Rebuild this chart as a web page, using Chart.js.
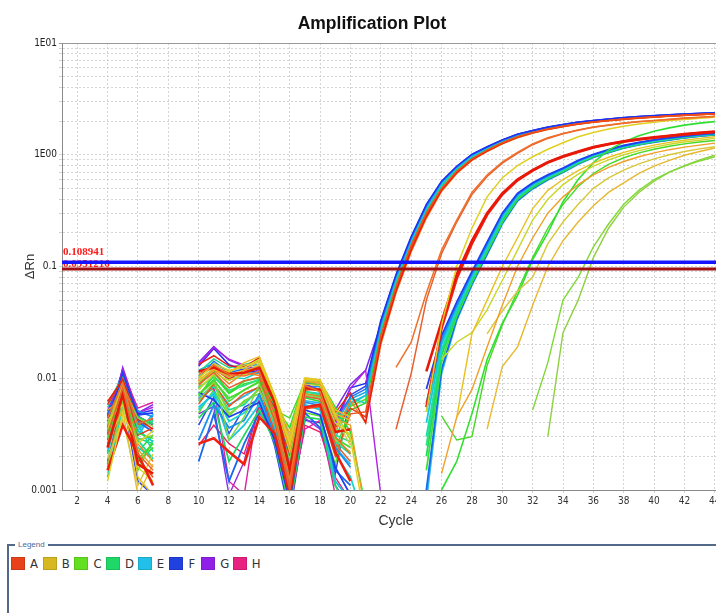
<!DOCTYPE html>
<html>
<head>
<meta charset="utf-8">
<title>Amplification Plot</title>
<script src="https://cdn.jsdelivr.net/npm/chart.js@4.4.1/dist/chart.umd.min.js"></script>
<style>
    html, body { margin: 0; padding: 0; background: #fff; overflow: hidden; }
    #page { position: relative; width: 716px; height: 613px; overflow: hidden; background: #fff; }
    #plot { position: absolute; left: 0; top: 0; width: 744px; height: 540px; }
    #legendBox {
        position: absolute; left: 7px; top: 544px; width: 730px; height: 90px;
        border-top: 2px solid #52698a; border-left: 2px solid #52698a;
    }
    #legendCaption {
        position: absolute; left: 6px; top: -6px; padding: 0 3px; background: #fff;
        font: 8px "Liberation Sans", sans-serif; color: #4a6a9a;
    }
    #legendItems { position: absolute; left: 2px; top: 10px; display: flex; }
    .item { display: flex; align-items: center; width: 31.7px; }
    .swatch { width: 12px; height: 11px; margin-right: 5px; border: 1px solid rgba(0,0,0,0.12); }
    .name { font: 13px "DejaVu Sans Condensed", "Liberation Sans Narrow", "Liberation Sans", sans-serif; color: #333; }
</style>
</head>
<body>
<div id="page">
    <div id="plot"><canvas id="chart"></canvas></div>
    <div id="legendBox">
        <span id="legendCaption">Legend</span>
        <div id="legendItems"></div>
    </div>
</div>
<script>
// cycles on the x axis
const cycles = [1, 2, 3, 4, 5, 6, 7, 8, 9, 10, 11, 12, 13, 14, 15, 16, 17, 18, 19, 20, 21, 22,
    23, 24, 25, 26, 27, 28, 29, 30, 31, 32, 33, 34, 35, 36, 37, 38, 39, 40, 41, 42, 43, 44];
const xTickValues = [2, 4, 6, 8, 10, 12, 14, 16, 18, 20, 22, 24, 26, 28, 30, 32, 34, 36, 38, 40, 42, 44];
const yMajorTicks = [0.001, 0.01, 0.1, 1, 10];
const yTickLabels = ['0.001', '0.01', '0.1', '1E00', '1E01'];

// thresholds
const thresholds = [0.108941, 0.0951216];
const thresholdText = ['0.108941', '0.0951216'];
const thresholdColors = ['#1414ff', '#a01212'];

// legend rows
const legendNames = ['A', 'B', 'C', 'D', 'E', 'F', 'G', 'H'];
const legendColors = ['#e8421a', '#d8b820', '#62e020', '#20d868', '#20c0e8', '#2040e0', '#9020e8', '#e82080'];

// one colour per well
const wellColors = [
    '#2030f0', '#1e78f0', '#18c0e8', '#18d890', '#30d830', '#18d0c0', '#f05018',
    '#e82010', '#f08020', '#7a28e8', '#58e020', '#18a8e8', '#3048e8', '#e83c1c',
    '#f07028', '#e86030', '#e0d020', '#e81808', '#f02010',
    '#2040f0', '#1890f0', '#18c8e0', '#18e0a0', '#20d860', '#40e030', '#1868f0', '#18d8c8', '#30e080', '#28b8f0',
    '#e8c020', '#f0a028', '#d8c838', '#c8d828', '#e8b830',
    '#30e030', '#48d828', '#80d838', '#90d040',
    '#e020a0', '#b020e8', '#f02068', '#9030e0'
];
const wellWidths = [
    1.5, 1.5, 1.5, 1.5, 1.5, 1.5, 1.5, 1.5, 1.5, 1.5, 1.5, 1.5, 1.5, 1.5,
    1.5, 1.5, 1.5, 2.6, 2.6,
    1.8, 1.8, 1.8, 1.8, 1.8, 1.8, 1.8, 1.8, 1.8, 1.8,
    1.4, 1.4, 1.4, 1.4, 1.4,
    1.6, 1.4, 1.4, 1.4,
    1.4, 1.4, 1.4, 1.4
];
// drawing layer: higher sits underneath
const wellLayers = [
    3, 3, 3, 3, 3, 3, 2, 2, 2, 3, 3, 3, 3, 2,
    1, 1, 1, 1, 1,
    2, 2, 2, 2, 2, 2, 2, 2, 2, 2,
    1, 1, 1, 1, 1,
    1, 1, 1, 1,
    2, 2, 2, 2
];

// baseline noise, cycles 4-7 then 10-20 (cycles 1-3, 8, 9 are below zero)
const noise = [
    [0.0045, 0.0118, 0.0048, 0.0052, 0.0128, 0.0185, 0.0132, 0.0118, 0.0112, 0.0055, 0.0016, 0.0091, 0.0086, 0.0041, 0.0082],
    [0.0036, 0.0102, 0.0042, 0.0039, 0.0099, 0.0142, 0.0112, 0.0121, 0.0128, 0.0059, 0.0019, 0.0094, 0.0088, 0.0042, 0.0068],
    [0.0028, 0.0093, 0.0034, 0.0047, 0.0083, 0.0129, 0.0096, 0.0109, 0.0118, 0.0047, 0.0012, 0.0076, 0.0073, 0.0029, 0.0061],
    [0.0055, 0.0096, 0.0029, 0.0026, 0.0113, 0.0149, 0.0124, 0.0133, 0.0142, 0.0067, 0.0023, 0.0097, 0.0092, 0.0038, 0.0058],
    [0.0021, 0.0085, 0.0022, 0.0031, 0.0069, 0.0106, 0.0073, 0.0089, 0.0096, 0.0040, 0.0009, 0.0067, 0.0062, 0.0023, 0.0052],
    [0.0046, 0.0101, 0.0039, 0.0022, 0.0105, 0.0126, 0.0103, 0.0099, 0.0113, 0.0056, 0.0017, 0.0083, 0.0080, 0.0046, 0.0066],
    [0.0016, 0.0071, 0.0019, 0.0013, 0.0059, 0.0089, 0.0056, 0.0073, 0.0083, 0.0033, 0.0011, 0.0053, 0.0056, 0.0020, 0.0048],
    [0.0062, 0.0097, 0.0043, 0.0035, 0.0133, 0.0159, 0.0129, 0.0126, 0.0153, 0.0062, 0.0021, 0.0099, 0.0094, 0.0049, 0.0074],
    [0.0038, 0.0094, 0.0026, 0.0018, 0.0092, 0.0118, 0.0089, 0.0112, 0.0106, 0.0045, 0.0013, 0.0072, 0.0069, 0.0033, 0.0063],
    [0.0032, 0.0125, 0.0049, 0.0058, 0.0138, 0.0192, 0.0145, 0.0128, 0.0121, 0.0058, 0.0032, 0.0088, 0.0079, 0.0052, 0.0088],
    [0.0025, 0.0078, 0.0015, 0.0028, 0.0049, 0.0079, 0.0046, 0.0063, 0.0073, 0.0029, 0.0007, 0.0049, 0.0046, 0.0017, 0.0056],
    [0.0048, 0.0108, 0.0036, 0.0041, 0.0118, 0.0136, 0.0115, 0.0128, 0.0133, 0.0059, 0.0018, 0.0085, 0.0084, 0.0039, 0.0065],
    [0.0018, 0.0066, 0.0012, 0.0009, 0.0038, 0.0068, 0.0032, 0.0055, 0.0065, 0.0025, 0.0006, 0.0042, 0.0040, 0.0014, 0.0071],
    [0.0058, 0.0099, 0.0031, 0.0036, 0.0095, 0.0122, 0.0098, 0.0118, 0.0122, 0.0051, 0.0015, 0.0078, 0.0081, 0.0036, 0.0054],
    [0.0044, 0.0091, 0.0039, 0.0044, 0.0108, 0.0132, 0.0108, 0.0105, 0.0115, 0.0048, 0.0012, 0.0086, 0.0076, 0.0030, 0.0021],
    [0.0031, 0.0082, 0.0021, 0.0015, 0.0088, 0.0112, 0.0082, 0.0095, 0.0102, 0.0042, 0.0010, 0.0069, 0.0065, 0.0026, 0.0018],
    [0.0012, 0.0048, 0.0026, 0.0034, 0.0098, 0.0135, 0.0118, 0.0125, 0.0148, 0.0068, 0.0026, 0.0099, 0.0095, 0.0047, 0.0029],
    [0.0024, 0.0072, 0.0017, 0.0014, 0.0115, 0.0125, 0.0109, 0.0112, 0.0124, 0.0061, 0.0015, 0.0082, 0.0078, 0.0033, 0.0035],
    [0.0015, 0.0038, 0.0021, 0.0011, 0.0026, 0.0029, 0.0022, 0.0017, 0.0045, 0.0032, 0.0009, 0.0055, 0.0058, 0.0022, 0.0012],
    [0.0041, 0.0112, 0.0047, 0.0049, 0.0075, 0.0064, 0.0045, 0.0052, 0.0061, 0.0028, 0.0008, 0.0052, 0.0047, 0.0016, 0.0009],
    [0.0034, 0.0089, 0.0051, 0.0045, 0.0028, 0.0058, 0.0036, 0.0042, 0.0072, 0.0031, 0.0011, 0.0061, 0.0057, 0.0024, 0.0016],
    [0.0022, 0.0075, 0.0034, 0.0027, 0.0055, 0.0072, 0.0028, 0.0038, 0.0058, 0.0036, 0.0013, 0.0058, 0.0052, 0.0012, 0.0008],
    [0.0058, 0.0104, 0.0028, 0.0019, 0.0062, 0.0085, 0.0052, 0.0058, 0.0081, 0.0039, 0.0014, 0.0068, 0.0066, 0.0027, 0.0021],
    [0.0017, 0.0062, 0.0045, 0.0039, 0.0044, 0.0061, 0.0018, 0.0031, 0.0052, 0.0027, 0.0007, 0.0045, 0.0043, 0.0011, 0.0006],
    [0.0029, 0.0081, 0.0018, 0.0024, 0.0071, 0.0095, 0.0066, 0.0078, 0.0094, 0.0044, 0.0015, 0.0073, 0.0068, 0.0029, 0.0024],
    [0.0047, 0.0098, 0.0041, 0.0033, 0.0018, 0.0048, 0.0012, 0.0026, 0.0049, 0.0034, 0.0009, 0.0049, 0.0036, 0.0015, 0.0011],
    [0.0013, 0.0055, 0.0024, 0.0019, 0.0052, 0.0075, 0.0041, 0.0049, 0.0066, 0.0033, 0.0012, 0.0057, 0.0054, 0.0021, 0.0013],
    [0.0038, 0.0092, 0.0037, 0.0042, 0.0082, 0.0102, 0.0078, 0.0086, 0.0098, 0.0046, 0.0016, 0.0076, 0.0071, 0.0031, 0.0027],
    [0.0026, 0.0068, 0.0031, 0.0048, 0.0066, 0.0088, 0.0058, 0.0069, 0.0084, 0.0038, 0.0011, 0.0063, 0.0060, 0.0024, 0.0017],
    [0.0035, 0.0087, 0.0013, 0.0009, 0.0102, 0.0128, 0.0112, 0.0138, 0.0156, 0.0071, 0.0032, 0.0101, 0.0097, 0.0052, 0.0045],
    [0.0052, 0.0064, 0.0023, 0.0016, 0.0085, 0.0118, 0.0102, 0.0116, 0.0129, 0.0064, 0.0024, 0.0094, 0.0090, 0.0043, 0.0038],
    [0.0019, 0.0043, 0.0011, 0.0021, 0.0092, 0.0124, 0.0115, 0.0131, 0.0139, 0.0069, 0.0027, 0.0096, 0.0089, 0.0045, 0.0025],
    [0.0042, 0.0058, 0.0016, 0.0012, 0.0079, 0.0109, 0.0096, 0.0108, 0.0135, 0.0063, 0.0022, 0.0089, 0.0086, 0.0040, 0.0031],
    [0.0027, 0.0052, 0.0009, 0.0017, 0.0096, 0.0121, 0.0106, 0.0119, 0.0143, 0.0066, 0.0029, 0.0098, 0.0092, 0.0048, 0.0042],
    [0.0033, 0.0079, 0.0019, 0.0026, 0.0089, 0.0115, 0.0074, 0.0094, 0.0101, 0.0058, 0.0036, 0.0097, 0.0094, 0.0055, 0.0033],
    [0.0024, 0.0069, 0.0032, 0.0029, 0.0072, 0.0098, 0.0062, 0.0079, 0.0092, 0.0052, 0.0044, 0.0093, 0.0087, 0.0049, 0.0028],
    [0.0039, 0.0086, 0.0044, 0.0037, 0.0081, 0.0107, 0.0028, 0.0045, 0.0088, 0.0046, 0.0019, 0.0081, 0.0077, 0.0035, 0.0032],
    [0.0016, 0.0059, 0.0028, 0.0031, 0.0063, 0.0092, 0.0048, 0.0061, 0.0079, 0.0041, 0.0014, 0.0071, 0.0067, 0.0028, 0.0022],
    [0.0044, 0.0113, 0.0054, 0.0061, 0.0065, 0.0082, 0.0012, 0.0009, 0.0071, 0.0035, 0.0008, 0.0035, 0.0042, 0.0009, 0.0006],
    [0.0036, 0.0122, 0.0049, 0.0055, 0.0132, 0.0188, 0.0148, 0.0131, 0.0115, 0.0052, 0.0025, 0.0072, 0.0069, 0.0038, 0.0081],
    [0.0028, 0.0076, 0.0038, 0.0043, 0.0025, 0.0038, 0.0026, 0.0021, 0.0056, 0.0029, 0.0007, 0.0038, 0.0033, 0.0013, 0.0008],
    [0.0051, 0.0109, 0.0046, 0.0038, 0.0048, 0.0056, 0.0009, 0.0018, 0.0058, 0.0031, 0.0009, 0.0044, 0.0035, 0.0011, 0.0007]
];

// amplification, cycles 21-44
const amp = [
    [0.009, 0.033, 0.085, 0.185, 0.36, 0.58, 0.79, 1.01, 1.18, 1.36, 1.53, 1.65, 1.77, 1.87, 1.96, 2.03, 2.09, 2.15, 2.2, 2.24, 2.28, 2.32, 2.35, 2.38],
    [0.008, 0.031, 0.082, 0.18, 0.35, 0.57, 0.78, 1.0, 1.17, 1.35, 1.52, 1.64, 1.76, 1.86, 1.95, 2.02, 2.08, 2.14, 2.19, 2.23, 2.27, 2.31, 2.34, 2.37],
    [0.007, 0.029, 0.077, 0.17, 0.33, 0.55, 0.76, 0.97, 1.15, 1.33, 1.5, 1.62, 1.74, 1.84, 1.93, 2.0, 2.06, 2.12, 2.17, 2.21, 2.25, 2.29, 2.32, 2.35],
    [0.007, 0.028, 0.075, 0.168, 0.325, 0.545, 0.755, 0.965, 1.145, 1.325, 1.495, 1.615, 1.735, 1.835, 1.925, 1.995, 2.055, 2.115, 2.165, 2.205, 2.245, 2.285, 2.315, 2.345],
    [0.006, 0.027, 0.073, 0.165, 0.32, 0.54, 0.75, 0.96, 1.14, 1.32, 1.49, 1.61, 1.73, 1.83, 1.92, 1.99, 2.05, 2.11, 2.16, 2.2, 2.24, 2.28, 2.31, 2.34],
    [0.006, 0.026, 0.07, 0.16, 0.31, 0.52, 0.73, 0.94, 1.12, 1.3, 1.47, 1.6, 1.72, 1.82, 1.91, 1.98, 2.04, 2.1, 2.15, 2.19, 2.23, 2.27, 2.3, 2.33],
    [0.005, 0.024, 0.066, 0.155, 0.3, 0.5, 0.71, 0.92, 1.1, 1.28, 1.45, 1.58, 1.7, 1.8, 1.89, 1.96, 2.03, 2.09, 2.14, 2.18, 2.22, 2.26, 2.29, 2.32],
    [0.004, 0.021, 0.06, 0.14, 0.28, 0.48, 0.69, 0.9, 1.08, 1.26, 1.43, 1.57, 1.69, 1.79, 1.88, 1.96, 2.02, 2.08, 2.13, 2.18, 2.22, 2.26, 2.29, 2.32],
    [0.004, 0.02, 0.058, 0.135, 0.27, 0.47, 0.68, 0.89, 1.07, 1.25, 1.42, 1.56, 1.68, 1.78, 1.87, 1.95, 2.01, 2.07, 2.12, 2.17, 2.21, 2.25, 2.28, 2.31],
    [0.0118, 0.03, 0.08, 0.175, 0.34, 0.56, 0.77, 0.99, 1.16, 1.34, 1.51, 1.63, 1.75, 1.85, 1.94, 2.01, 2.07, 2.13, 2.18, 2.22, 2.26, 2.3, 2.33, 2.36],
    [0.0065, 0.0275, 0.074, 0.166, 0.322, 0.542, 0.752, 0.962, 1.142, 1.322, 1.492, 1.612, 1.732, 1.832, 1.922, 1.992, 2.052, 2.112, 2.162, 2.202, 2.242, 2.282, 2.312, 2.342],
    [0.0075, 0.03, 0.079, 0.172, 0.335, 0.555, 0.765, 0.975, 1.155, 1.335, 1.505, 1.625, 1.745, 1.845, 1.935, 2.005, 2.065, 2.125, 2.175, 2.215, 2.255, 2.295, 2.325, 2.355],
    [0.0085, 0.032, 0.083, 0.182, 0.355, 0.575, 0.785, 1.005, 1.175, 1.355, 1.525, 1.645, 1.765, 1.865, 1.955, 2.025, 2.085, 2.145, 2.195, 2.235, 2.275, 2.315, 2.345, 2.375],
    [0.0045, 0.022, 0.063, 0.148, 0.29, 0.49, 0.7, 0.91, 1.09, 1.27, 1.44, 1.575, 1.695, 1.795, 1.885, 1.96, 2.025, 2.085, 2.135, 2.18, 2.22, 2.26, 2.29, 2.32],
    [null, null, 0.0125, 0.021, 0.058, 0.14, 0.26, 0.46, 0.66, 0.86, 1.05, 1.25, 1.42, 1.55, 1.67, 1.77, 1.85, 1.92, 1.98, 2.03, 2.08, 2.13, 2.17, 2.21],
    [null, null, 0.0035, 0.011, 0.05, 0.13, 0.25, 0.44, 0.64, 0.84, 1.03, 1.23, 1.4, 1.54, 1.66, 1.76, 1.84, 1.91, 1.97, 2.02, 2.07, 2.12, 2.16, 2.2],
    [0.0005, null, null, null, 0.005, 0.03, 0.1, 0.22, 0.42, 0.62, 0.8, 0.96, 1.12, 1.28, 1.45, 1.58, 1.7, 1.8, 1.88, 1.95, 2.02, 2.07, 2.12, 2.16],
    [null, null, null, null, 0.0115, 0.032, 0.085, 0.17, 0.3, 0.45, 0.6, 0.73, 0.86, 0.97, 1.07, 1.17, 1.25, 1.32, 1.38, 1.43, 1.48, 1.53, 1.57, 1.61],
    [null, null, null, null, 0.0055, 0.028, 0.078, 0.16, 0.29, 0.44, 0.59, 0.72, 0.85, 0.96, 1.06, 1.16, 1.24, 1.31, 1.37, 1.42, 1.47, 1.52, 1.56, 1.6],
    [0.0005, null, null, null, 0.008, 0.024, 0.048, 0.09, 0.165, 0.3, 0.45, 0.56, 0.66, 0.76, 0.89, 1.01, 1.11, 1.21, 1.29, 1.36, 1.42, 1.47, 1.52, 1.56],
    [null, null, null, null, 0.006, 0.022, 0.045, 0.086, 0.158, 0.29, 0.44, 0.55, 0.65, 0.75, 0.88, 1.0, 1.1, 1.2, 1.28, 1.35, 1.41, 1.46, 1.51, 1.55],
    [0.0004, null, null, null, 0.004, 0.02, 0.042, 0.082, 0.15, 0.28, 0.43, 0.54, 0.64, 0.74, 0.87, 0.99, 1.09, 1.19, 1.27, 1.34, 1.4, 1.46, 1.5, 1.54],
    [null, null, null, null, 0.003, 0.018, 0.04, 0.078, 0.145, 0.27, 0.42, 0.53, 0.63, 0.73, 0.86, 0.98, 1.08, 1.18, 1.26, 1.33, 1.39, 1.45, 1.5, 1.54],
    [0.0003, null, null, null, 0.002, 0.016, 0.038, 0.075, 0.14, 0.26, 0.41, 0.52, 0.62, 0.72, 0.85, 0.97, 1.07, 1.17, 1.25, 1.32, 1.38, 1.44, 1.49, 1.53],
    [null, null, null, null, 0.0015, 0.014, 0.036, 0.072, 0.135, 0.25, 0.4, 0.51, 0.61, 0.71, 0.84, 0.96, 1.06, 1.16, 1.24, 1.31, 1.37, 1.43, 1.48, 1.52],
    [null, null, null, null, 0.001, 0.012, 0.034, 0.07, 0.13, 0.245, 0.39, 0.5, 0.6, 0.7, 0.83, 0.95, 1.05, 1.15, 1.23, 1.3, 1.36, 1.42, 1.47, 1.51],
    [0.0005, null, null, null, 0.005, 0.021, 0.044, 0.084, 0.155, 0.285, 0.435, 0.545, 0.645, 0.745, 0.875, 0.995, 1.095, 1.195, 1.275, 1.345, 1.405, 1.455, 1.505, 1.545],
    [null, null, null, null, 0.0025, 0.017, 0.039, 0.077, 0.142, 0.265, 0.415, 0.525, 0.625, 0.725, 0.855, 0.975, 1.075, 1.175, 1.255, 1.325, 1.385, 1.445, 1.495, 1.535],
    [null, null, null, null, 0.0008, 0.011, 0.033, 0.068, 0.128, 0.24, 0.385, 0.495, 0.595, 0.695, 0.825, 0.945, 1.045, 1.145, 1.225, 1.295, 1.355, 1.415, 1.465, 1.505],
    [null, null, null, null, null, null, 0.0045, 0.025, 0.05, 0.1, 0.18, 0.33, 0.48, 0.6, 0.72, 0.84, 0.95, 1.05, 1.14, 1.22, 1.29, 1.35, 1.4, 1.45],
    [0.0006, null, null, null, null, 0.0014, 0.0045, 0.0079, 0.019, 0.045, 0.1, 0.18, 0.3, 0.42, 0.54, 0.66, 0.77, 0.87, 0.96, 1.04, 1.11, 1.17, 1.22, 1.27],
    [null, null, null, null, null, null, null, null, 0.025, 0.04, 0.06, 0.08, 0.16, 0.25, 0.36, 0.5, 0.62, 0.73, 0.83, 0.92, 1.0, 1.07, 1.13, 1.18],
    [null, null, null, null, null, 0.0147, 0.021, 0.0256, 0.041, 0.075, 0.14, 0.26, 0.4, 0.54, 0.67, 0.79, 0.9, 1.0, 1.09, 1.17, 1.24, 1.3, 1.35, 1.4],
    [null, null, null, null, null, null, null, null, 0.0035, 0.0127, 0.019, 0.045, 0.1, 0.17, 0.25, 0.35, 0.46, 0.56, 0.68, 0.79, 0.89, 0.99, 1.07, 1.15],
    [0.0007, null, null, null, null, 0.001, 0.0018, 0.0048, 0.0147, 0.031, 0.055, 0.115, 0.2, 0.38, 0.6, 0.85, 1.1, 1.3, 1.48, 1.62, 1.74, 1.84, 1.92, 1.98],
    [null, null, null, null, null, 0.0046, 0.0028, 0.003, 0.013, 0.03, 0.06, 0.12, 0.22, 0.36, 0.52, 0.68, 0.82, 0.94, 1.04, 1.12, 1.19, 1.25, 1.3, 1.34],
    [null, null, null, null, null, null, null, null, null, null, null, 0.0052, 0.0138, 0.05, 0.08, 0.15, 0.24, 0.36, 0.48, 0.6, 0.7, 0.79, 0.88, 0.96],
    [null, null, null, null, null, null, null, null, null, null, null, null, 0.003, 0.0256, 0.05, 0.12, 0.22, 0.34, 0.46, 0.58, 0.7, 0.8, 0.9, 0.99],
    [0.0004],
    [0.0118, 0.0009],
    [0.0005],
    [0.0003]
];

function wellData(i) {
    const n = noise[i];
    return [null, null, null, n[0], n[1], n[2], n[3], null, null, ...n.slice(4), ...amp[i]];
}

const curveSets = wellColors.map((color, i) => ({
    label: 'Well ' + (i + 1),
    data: wellData(i),
    borderColor: color,
    borderWidth: wellWidths[i],
    pointRadius: 0,
    tension: 0,
    spanGaps: false,
    order: wellLayers[i]
}));

const thresholdSets = thresholds.map((t, i) => ({
    label: 'Threshold ' + thresholdText[i],
    data: [{ x: 1, y: t }, { x: 45, y: t }],
    borderColor: thresholdColors[i],
    borderWidth: i === 0 ? 3.5 : 3,
    pointRadius: 0,
    order: 0
}));

// red threshold numbers at the left end of the lines
const thresholdLabels = {
    id: 'thresholdLabels',
    beforeDatasetsDraw(chart) {
        const { ctx, chartArea, scales } = chart;
        ctx.save();
        ctx.fillStyle = '#ff1a1a';
        ctx.font = 'bold 11px "Liberation Serif", serif';
        ctx.textBaseline = 'alphabetic';
        ctx.fillText(thresholdText[0], chartArea.left + 1, scales.y.getPixelForValue(thresholds[0]) - 7);
        ctx.fillText(thresholdText[1], chartArea.left + 1, scales.y.getPixelForValue(thresholds[1]) - 2);
        ctx.restore();
    }
};

const narrowFont = '"DejaVu Sans Condensed", "Liberation Sans Narrow", "Liberation Sans", sans-serif';

function yTickLabel(value) {
    const idx = yMajorTicks.findIndex(v => Math.abs(Math.log10(v) - Math.log10(value)) < 1e-6);
    return idx >= 0 ? yTickLabels[idx] : '';
}

// gridlines at 1..9 of every decade
const yGridValues = [];
yMajorTicks.forEach((d, i) => {
    if (i === yMajorTicks.length - 1) {
        yGridValues.push(d);
        return;
    }
    for (let m = 1; m <= 9; m++) yGridValues.push(d * m);
});

new Chart(document.getElementById('chart'), {
    type: 'line',
    data: {
        labels: cycles,
        datasets: [...thresholdSets, ...curveSets]
    },
    options: {
        responsive: true,
        maintainAspectRatio: false,
        animation: false,
        events: [],
        layout: { padding: { left: 14, right: 14, top: 0, bottom: 0 } },
        plugins: {
            legend: { display: false },
            tooltip: { enabled: false },
            title: {
                display: true,
                text: 'Amplification Plot',
                color: '#111',
                font: { family: '"Liberation Sans", sans-serif', size: 17.5, weight: 'bold' },
                padding: { top: 14, bottom: 8 }
            }
        },
        scales: {
            x: {
                type: 'linear',
                min: 1,
                max: 45,
                afterBuildTicks: axis => { axis.ticks = xTickValues.map(v => ({ value: v })); },
                afterFit: axis => { axis.height = 50; },
                grid: { color: '#d4d4d4', tickLength: 3 },
                border: { display: true, color: '#8a8a8a', width: 1, dash: [2, 2] },
                ticks: {
                    autoSkip: false,
                    maxRotation: 0,
                    padding: 2,
                    color: '#333',
                    font: { family: narrowFont, size: 10 },
                    callback: v => String(v)
                },
                title: {
                    display: true,
                    text: 'Cycle',
                    color: '#333',
                    font: { family: '"Liberation Sans", sans-serif', size: 14 },
                    padding: { top: 0, bottom: 10.6 }
                }
            },
            y: {
                type: 'logarithmic',
                min: 0.001,
                max: 10,
                afterBuildTicks: axis => { axis.ticks = yGridValues.map(v => ({ value: v })); },
                afterFit: axis => { axis.width = 48; },
                grid: {
                    color: ctx => (ctx.tick && Math.abs(ctx.tick.value - 10) < 1e-9) ? '#9a9a9a' : '#d4d4d4',
                    tickLength: 3
                },
                border: {
                    display: true,
                    color: '#8a8a8a',
                    width: 1,
                    dash: ctx => (ctx.tick && Math.abs(ctx.tick.value - 10) < 1e-9) ? [] : [2, 2]
                },
                ticks: {
                    autoSkip: false,
                    padding: 2,
                    color: '#222',
                    font: { family: narrowFont, size: 10 },
                    callback: v => yTickLabel(v)
                },
                title: {
                    display: true,
                    text: 'ΔRn',
                    color: '#333',
                    font: { family: '"Liberation Sans", sans-serif', size: 13 },
                    padding: { top: 8.2, bottom: 0 }
                }
            }
        }
    },
    plugins: [thresholdLabels]
});

// legend A-H under the plot
const legendItems = document.getElementById('legendItems');
legendNames.forEach((name, i) => {
    const item = document.createElement('div');
    item.className = 'item';
    const swatch = document.createElement('div');
    swatch.className = 'swatch';
    swatch.style.background = legendColors[i];
    const label = document.createElement('span');
    label.className = 'name';
    label.textContent = name;
    item.appendChild(swatch);
    item.appendChild(label);
    legendItems.appendChild(item);
});
</script>
</body>
</html>
